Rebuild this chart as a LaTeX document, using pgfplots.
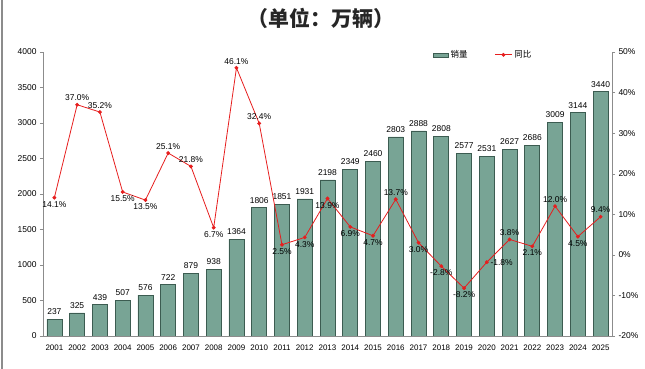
\documentclass[border=0pt]{standalone}
\usepackage{pgfplots}
\pgfplotsset{compat=1.18}
\usepackage{pgfplotstable}
\usepackage{fontspec}
\setmainfont{Liberation Sans}
\newfontfamily\cjk{Noto Sans CJK SC}
\definecolor{barfill}{RGB}{120,164,149}
\definecolor{baredge}{RGB}{60,92,81}
\definecolor{linered}{RGB}{230,30,30}
\definecolor{axgray}{RGB}{140,140,140}

\pgfplotstableread{
x year sales
0 2001 237
1 2002 325
2 2003 439
3 2004 507
4 2005 576
5 2006 722
6 2007 879
7 2008 938
8 2009 1364
9 2010 1806
10 2011 1851
11 2012 1931
12 2013 2198
13 2014 2349
14 2015 2460
15 2016 2803
16 2017 2888
17 2018 2808
18 2019 2577
19 2020 2531
20 2021 2627
21 2022 2686
22 2023 3009
23 2024 3144
24 2025 3440
}\salesdata

\pgfplotstableread{
x yoy
0 14.1
1 37.0
2 35.2
3 15.5
4 13.5
5 25.1
6 21.8
7 6.7
8 46.1
9 32.4
10 2.5
11 4.3
12 13.9
13 6.9
14 4.7
15 13.7
16 3.0
17 -2.8
18 -8.2
19 -1.8
20 3.8
21 2.1
22 12.0
23 4.5
24 9.4
}\yoydata

\begin{document}
\begin{tikzpicture}[x=1bp,y=1bp]
\path[use as bounding box] (-43bp,-33bp) rectangle (602bp,336bp);
\draw[axgray,line width=1.2bp] (-41bp,-33bp) -- (-41bp,336bp);
\node[font=\cjk\bfseries\fontsize{21}{24}\selectfont, text=black!85] at (278bp,318bp) {（单位：万辆）};

\begin{axis}[
  at={(0,0)}, anchor=south west,
  scale only axis, width=569bp, height=284bp,
  xmin=-0.5, xmax=24.5, ymin=0, ymax=4000,
  axis x line*=bottom, axis y line*=left,
  axis line style={axgray, line width=0.6bp},
  xtick={0,...,24},
  xticklabels={2001,2002,2003,2004,2005,2006,2007,2008,2009,2010,2011,2012,2013,2014,2015,2016,2017,2018,2019,2020,2021,2022,2023,2024,2025},
  x tick label style={font=\fontsize{8}{9}\selectfont, yshift=-2bp},
  major x tick style={draw=none},
  extra x ticks={-0.5,0.5,...,24.5},
  extra x tick labels={},
  extra x tick style={tick style={axgray}, major tick length=3bp, tick align=outside},
  ytick={0,500,...,4000},
  y tick label style={font=\fontsize{8.5}{9}\selectfont},
  tick align=outside, major tick length=3bp,
  tick style={axgray},
  /pgf/number format/assume math mode=true,
  /pgf/number format/1000 sep={},
]
\addplot[ybar, bar width=15bp, fill=barfill, draw=baredge, line width=0.7bp,
  nodes near coords,
  every node near coord/.append style={font=\fontsize{8.5}{9}\selectfont, text=black, yshift=1bp},
] table[x=x,y=sales] {\salesdata};
\end{axis}

\begin{axis}[
  at={(0,0)}, anchor=south west,
  scale only axis, width=569bp, height=284bp,
  xmin=-0.5, xmax=24.5, ymin=-20, ymax=50,
  axis x line=none, axis y line*=right,
  axis line style={axgray, line width=0.6bp},
  ytick={-20,-10,...,50},
  yticklabel={\pgfmathprintnumber{\tick}\%},
  y tick label style={font=\fontsize{8.5}{9}\selectfont},
  tick align=outside, major tick length=3bp,
  tick style={axgray},
  /pgf/number format/assume math mode=true,
  legend style={at={(rel axis cs:0.68,0.99)}, anchor=west, draw=none, fill=none,
    font=\cjk\fontsize{8.5}{9}\selectfont, legend columns=2,
    /tikz/every even column/.append style={column sep=25bp}},
  lbl/.style={draw=none, mark=none, forget plot,
    nodes near coords={\pgfmathprintnumber[fixed,fixed zerofill,precision=1]{\pgfplotspointmeta}\%},
    every node near coord/.append style={font=\fontsize{8.5}{9}\selectfont, text=black, anchor=#1, inner sep=3.5bp},
    point meta=y},
]
\addlegendimage{legend image code/.code={\fill[barfill, draw=baredge, line width=0.5bp] (0bp,-2bp) rectangle (15bp,2bp);}}
\addlegendentry{销量}
\addlegendimage{linered, line width=0.8bp, mark=*, mark size=1.5bp, mark options={fill=linered}}
\addlegendentry{同比}
\addplot[linered, line width=0.8bp, mark=*, mark size=1.5bp, mark options={fill=linered, draw=linered}, forget plot]
  table[x=x,y=yoy] {\yoydata};
\addplot[lbl=north] coordinates {(0,14.1) (3,15.5) (4,13.5) (7,6.7) (10,2.5) (11,4.3) (12,13.9) (13,6.9) (14,4.7) (16,3.0) (17,-2.8) (18,-8.2) (21,2.1) (23,4.5)};
\addplot[lbl=south] coordinates {(1,37.0) (2,35.2) (5,25.1) (6,21.8) (8,46.1) (9,32.4) (15,13.7) (20,3.8) (22,12.0) (24,9.4)};
\addplot[lbl=west] coordinates {(19,-1.8)};
\end{axis}
\end{tikzpicture}
\end{document}
